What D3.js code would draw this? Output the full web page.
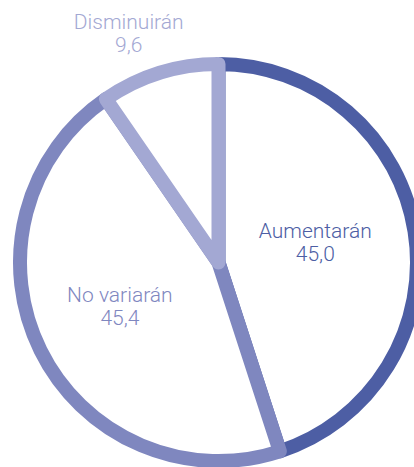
<!DOCTYPE html>
<html>
<head>
<meta charset="utf-8">
<script src="https://cdn.jsdelivr.net/npm/d3@7"></script>
<style>
  html, body { margin: 0; padding: 0; background: #fff; }
  svg { display: block; }
  text { font-family: Roboto, "Liberation Sans", Arial, sans-serif; font-weight: 300; }
</style>
</head>
<body>
<svg id="chart" width="414" height="467"></svg>
<script>
/* eslint-env browser */
/* global d3: false */

const categories = ['Aumentarán', 'No variarán', 'Disminuirán'];
const values = [45.0, 45.4, 9.6];
const valueLabels = ['45,0', '45,4', '9,6'];
const colors = ['#4d5ea4', '#7f87bf', '#a3a8d3'];

const cx = 218.5;
const cy = 262.5;
const radius = 198.5;

const svg = d3.select('#chart');
const g = svg.append('g').attr('transform', `translate(${cx},${cy})`);

const pie = d3.pie().sort(null).value((d) => d.value);
const rows = categories.map((c, i) => ({ name: c, value: values[i], label: valueLabels[i], color: colors[i] }));
const arcs = pie(rows);

const arc = d3.arc().innerRadius(0).outerRadius(radius);

g.selectAll('path.slice')
  .data(arcs)
  .join('path')
  .attr('class', 'slice')
  .attr('d', arc)
  .attr('fill', '#ffffff')
  .attr('stroke', (d) => d.data.color)
  .attr('stroke-width', 14)
  .attr('stroke-linejoin', 'round');

// label anchor: inside the big slices, above the circle for the small one
function labelPos(d) {
  const a = (d.startAngle + d.endAngle) / 2;
  if (d.endAngle - d.startAngle < 1) {
    return [Math.sin(a) * 235 - 20, -Math.cos(a) * 235];
  }
  const r = Math.sin(a) > 0 ? 98 : 110;
  return [Math.sin(a) * r, -Math.cos(a) * r];
}

const labels = g.selectAll('g.label')
  .data(arcs)
  .join('g')
  .attr('class', 'label')
  .attr('transform', (d) => {
    const p = labelPos(d);
    return `translate(${p[0]},${p[1]})`;
  });

labels.append('text')
  .attr('text-anchor', 'middle')
  .attr('y', -9)
  .attr('font-size', 21)
  .attr('fill', (d) => d.data.color)
  .text((d) => d.data.name);

labels.append('text')
  .attr('text-anchor', 'middle')
  .attr('y', 14)
  .attr('font-size', 21)
  .attr('fill', (d) => d.data.color)
  .text((d) => d.data.label);
</script>
</body>
</html>
